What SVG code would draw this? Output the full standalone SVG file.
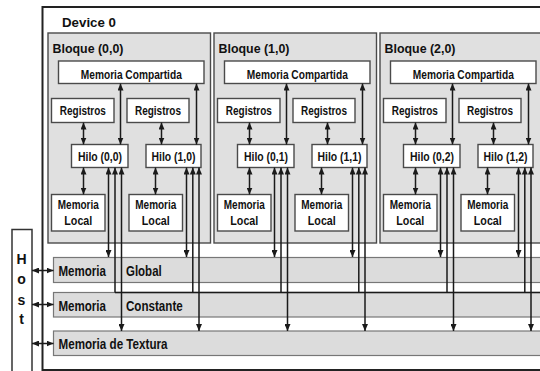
<svg xmlns="http://www.w3.org/2000/svg" width="540" height="371" viewBox="0 0 540 371">
  <defs>
    <marker id="ah" viewBox="0 0 7 6" refX="7" refY="3" markerWidth="7" markerHeight="6" markerUnits="userSpaceOnUse" orient="auto-start-reverse">
      <path d="M0,0 L7,3 L0,6 z" fill="#1a1a1a"/>
    </marker>
    <style>
      text { font-family: "Liberation Sans", Arial, Helvetica, sans-serif; font-weight: bold; fill: #111; }
      .frame { fill: #ffffff; stroke: #222; stroke-width: 2; }
      .block { fill: #e0e0e0; stroke: #4a4a4a; stroke-width: 1.4; }
      .box { fill: #ffffff; stroke: #4a4a4a; stroke-width: 1.4; }
      .mem { fill: #dcdcdc; stroke: #777; stroke-width: 1.2; }
      .host { fill: #ffffff; stroke: #333; stroke-width: 1.5; }
      .c { fill: none; stroke: #1a1a1a; stroke-width: 1.5; }
      .both { marker-start: url(#ah); marker-end: url(#ah); }
      .up { marker-start: url(#ah); }
      .t12 { font-size: 12.5px; text-anchor: middle; }
      .t13 { font-size: 14px; }
    </style>
  </defs>

  <rect width="540" height="371" fill="#ffffff"/>

  <!-- device frame -->
  <g id="device-0">
    <rect class="frame" x="42.5" y="7" width="520" height="363"/>
    <text x="62" y="26.5" font-size="13.5" textLength="54" lengthAdjust="spacingAndGlyphs">Device 0</text>
  </g>

  <!-- host -->
  <g id="host">
    <rect class="host" x="12" y="229.5" width="20" height="150"/>
    <text x="21.5" y="263.5" font-size="14" text-anchor="middle">H</text>
    <text x="21.5" y="283.5" font-size="14" text-anchor="middle">o</text>
    <text x="21.5" y="305" font-size="14" text-anchor="middle">s</text>
    <text x="21.5" y="324" font-size="14" text-anchor="middle">t</text>
  </g>

  <!-- memory spaces -->
  <g id="mem-global">
    <rect class="mem" x="53.5" y="257.5" width="500" height="25"/>
    <text class="t13" x="58.5" y="275.5" textLength="47.5" lengthAdjust="spacingAndGlyphs">Memoria</text>
    <text class="t13" x="126" y="275.5" textLength="35.7" lengthAdjust="spacingAndGlyphs">Global</text>
  </g>
  <g id="mem-constante">
    <rect class="mem" x="53.5" y="292.5" width="500" height="24.5"/>
    <text class="t13" x="58.5" y="310.5" textLength="47.5" lengthAdjust="spacingAndGlyphs">Memoria</text>
    <text class="t13" x="126" y="310.5" textLength="56.7" lengthAdjust="spacingAndGlyphs">Constante</text>
  </g>
  <g id="mem-textura">
    <rect class="mem" x="53.5" y="331" width="500" height="24.5"/>
    <text class="t13" x="58.5" y="349" textLength="109" lengthAdjust="spacingAndGlyphs">Memoria de Textura</text>
  </g>

  <!-- blocks -->
  <g id="bloque-0-0">
    <rect class="block" x="48" y="33" width="162.5" height="210"/>
    <text x="52.5" y="53" font-size="12.5" textLength="71" lengthAdjust="spacingAndGlyphs">Bloque (0,0)</text>
    <g id="compartida-0"><rect class="box" x="58.5" y="61" width="145.5" height="22.5"/><text class="t12" x="131.3" y="79" textLength="101" lengthAdjust="spacingAndGlyphs">Memoria Compartida</text></g>
    <g id="registros-0-0"><rect class="box" x="51.5" y="98.5" width="62.5" height="24"/><text class="t12" x="82.8" y="114.5" textLength="46" lengthAdjust="spacingAndGlyphs">Registros</text></g>
    <g id="registros-1-0"><rect class="box" x="127" y="98.5" width="62" height="24"/><text class="t12" x="158" y="114.5" textLength="46" lengthAdjust="spacingAndGlyphs">Registros</text></g>
    <g id="hilo-0-0"><rect class="box" x="71.5" y="144.5" width="56.5" height="23"/><text class="t12" x="100" y="160.5" textLength="44" lengthAdjust="spacingAndGlyphs">Hilo (0,0)</text></g>
    <g id="hilo-1-0"><rect class="box" x="146" y="144.5" width="55" height="23"/><text class="t12" x="173.5" y="160.5" textLength="44" lengthAdjust="spacingAndGlyphs">Hilo (1,0)</text></g>
    <g id="local-0-0"><rect class="box" x="51.5" y="194.5" width="53.5" height="36.5"/><text class="t12" x="78.3" y="209" textLength="41" lengthAdjust="spacingAndGlyphs">Memoria</text><text class="t12" x="78.3" y="225" textLength="28" lengthAdjust="spacingAndGlyphs">Local</text></g>
    <g id="local-1-0"><rect class="box" x="129" y="194.5" width="53.5" height="36.5"/><text class="t12" x="155.8" y="209" textLength="41" lengthAdjust="spacingAndGlyphs">Memoria</text><text class="t12" x="155.8" y="225" textLength="28" lengthAdjust="spacingAndGlyphs">Local</text></g>
  </g>

  <g id="bloque-1-0">
    <rect class="block" x="214" y="33" width="162.5" height="210"/>
    <text x="218.5" y="53" font-size="12.5" textLength="71" lengthAdjust="spacingAndGlyphs">Bloque (1,0)</text>
    <g id="compartida-1"><rect class="box" x="224.5" y="61" width="145.5" height="22.5"/><text class="t12" x="297.3" y="79" textLength="101" lengthAdjust="spacingAndGlyphs">Memoria Compartida</text></g>
    <g id="registros-0-1"><rect class="box" x="217.5" y="98.5" width="62.5" height="24"/><text class="t12" x="248.8" y="114.5" textLength="46" lengthAdjust="spacingAndGlyphs">Registros</text></g>
    <g id="registros-1-1"><rect class="box" x="293" y="98.5" width="62" height="24"/><text class="t12" x="324" y="114.5" textLength="46" lengthAdjust="spacingAndGlyphs">Registros</text></g>
    <g id="hilo-0-1"><rect class="box" x="237.5" y="144.5" width="56.5" height="23"/><text class="t12" x="266" y="160.5" textLength="44" lengthAdjust="spacingAndGlyphs">Hilo (0,1)</text></g>
    <g id="hilo-1-1"><rect class="box" x="312" y="144.5" width="55" height="23"/><text class="t12" x="339.5" y="160.5" textLength="44" lengthAdjust="spacingAndGlyphs">Hilo (1,1)</text></g>
    <g id="local-0-1"><rect class="box" x="217.5" y="194.5" width="53.5" height="36.5"/><text class="t12" x="244.3" y="209" textLength="41" lengthAdjust="spacingAndGlyphs">Memoria</text><text class="t12" x="244.3" y="225" textLength="28" lengthAdjust="spacingAndGlyphs">Local</text></g>
    <g id="local-1-1"><rect class="box" x="295" y="194.5" width="53.5" height="36.5"/><text class="t12" x="321.8" y="209" textLength="41" lengthAdjust="spacingAndGlyphs">Memoria</text><text class="t12" x="321.8" y="225" textLength="28" lengthAdjust="spacingAndGlyphs">Local</text></g>
  </g>

  <g id="bloque-2-0">
    <rect class="block" x="380" y="33" width="162.5" height="210"/>
    <text x="384.5" y="53" font-size="12.5" textLength="71" lengthAdjust="spacingAndGlyphs">Bloque (2,0)</text>
    <g id="compartida-2"><rect class="box" x="390.5" y="61" width="145.5" height="22.5"/><text class="t12" x="463.3" y="79" textLength="101" lengthAdjust="spacingAndGlyphs">Memoria Compartida</text></g>
    <g id="registros-0-2"><rect class="box" x="383.5" y="98.5" width="62.5" height="24"/><text class="t12" x="414.8" y="114.5" textLength="46" lengthAdjust="spacingAndGlyphs">Registros</text></g>
    <g id="registros-1-2"><rect class="box" x="459" y="98.5" width="62" height="24"/><text class="t12" x="490" y="114.5" textLength="46" lengthAdjust="spacingAndGlyphs">Registros</text></g>
    <g id="hilo-0-2"><rect class="box" x="403.5" y="144.5" width="56.5" height="23"/><text class="t12" x="432" y="160.5" textLength="44" lengthAdjust="spacingAndGlyphs">Hilo (0,2)</text></g>
    <g id="hilo-1-2"><rect class="box" x="478" y="144.5" width="55" height="23"/><text class="t12" x="505.5" y="160.5" textLength="44" lengthAdjust="spacingAndGlyphs">Hilo (1,2)</text></g>
    <g id="local-0-2"><rect class="box" x="383.5" y="194.5" width="53.5" height="36.5"/><text class="t12" x="410.3" y="209" textLength="41" lengthAdjust="spacingAndGlyphs">Memoria</text><text class="t12" x="410.3" y="225" textLength="28" lengthAdjust="spacingAndGlyphs">Local</text></g>
    <g id="local-1-2"><rect class="box" x="461" y="194.5" width="53.5" height="36.5"/><text class="t12" x="487.8" y="209" textLength="41" lengthAdjust="spacingAndGlyphs">Memoria</text><text class="t12" x="487.8" y="225" textLength="28" lengthAdjust="spacingAndGlyphs">Local</text></g>
  </g>

  <!-- connectors -->
  <g id="connectors">
    <!-- constant memory bus -->
    <path class="c" d="M115,292.5 H545"/>
    <!-- host to memory spaces -->
    <path class="c both" d="M32,270.5 H53.5"/>
    <path class="c both" d="M32,304.5 H53.5"/>
    <path class="c both" d="M32,343.5 H53.5"/>

    <g id="links-block-0">
      <path class="c both" d="M83.5,122.5 V144.5"/>
      <path class="c both" d="M83.5,167.5 V194.5"/>
      <path class="c both" d="M120.5,83.5 V144.5"/>
      <path class="c both" d="M161.5,122.5 V144.5"/>
      <path class="c both" d="M155.5,167.5 V194.5"/>
      <path class="c both" d="M196.5,83.5 V144.5"/>
      <path class="c both" d="M108.5,167.5 V257"/>
      <path class="c up" d="M115,167.5 V292.5"/>
      <path class="c both" d="M121.5,167.5 V331"/>
      <path class="c both" d="M186.5,167.5 V257"/>
      <path class="c up" d="M192.8,167.5 V292.5"/>
      <path class="c both" d="M199,167.5 V331"/>
    </g>
    <g id="links-block-1">
      <path class="c both" d="M249.5,122.5 V144.5"/>
      <path class="c both" d="M249.5,167.5 V194.5"/>
      <path class="c both" d="M286.5,83.5 V144.5"/>
      <path class="c both" d="M327.5,122.5 V144.5"/>
      <path class="c both" d="M321.5,167.5 V194.5"/>
      <path class="c both" d="M362.5,83.5 V144.5"/>
      <path class="c both" d="M274.5,167.5 V257"/>
      <path class="c up" d="M281,167.5 V292.5"/>
      <path class="c both" d="M287.5,167.5 V331"/>
      <path class="c both" d="M352.5,167.5 V257"/>
      <path class="c up" d="M358.8,167.5 V292.5"/>
      <path class="c both" d="M365,167.5 V331"/>
    </g>
    <g id="links-block-2">
      <path class="c both" d="M415.5,122.5 V144.5"/>
      <path class="c both" d="M415.5,167.5 V194.5"/>
      <path class="c both" d="M452.5,83.5 V144.5"/>
      <path class="c both" d="M493.5,122.5 V144.5"/>
      <path class="c both" d="M487.5,167.5 V194.5"/>
      <path class="c both" d="M528.5,83.5 V144.5"/>
      <path class="c both" d="M440.5,167.5 V257"/>
      <path class="c up" d="M447,167.5 V292.5"/>
      <path class="c both" d="M453.5,167.5 V331"/>
      <path class="c both" d="M518.5,167.5 V257"/>
      <path class="c up" d="M524.8,167.5 V292.5"/>
      <path class="c both" d="M531,167.5 V331"/>
    </g>
  </g>
</svg>
